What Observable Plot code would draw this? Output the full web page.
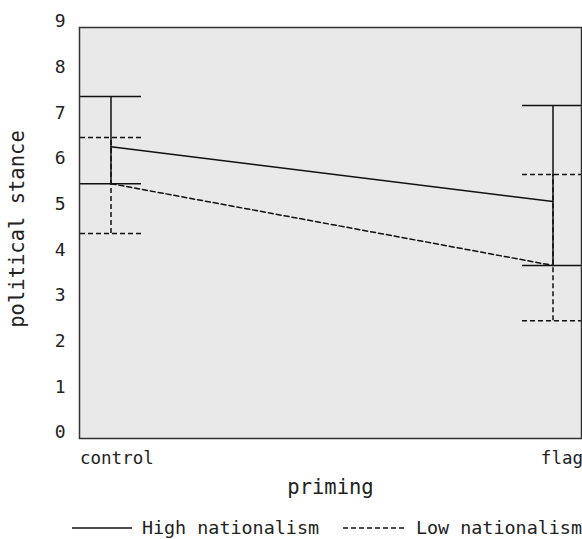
<!DOCTYPE html>
<html><head><meta charset="utf-8">
<script src="https://cdn.jsdelivr.net/npm/d3@7"></script>
<script src="https://cdn.jsdelivr.net/npm/@observablehq/plot@0.6"></script>
<style>
html,body{margin:0;padding:0;background:#fff;overflow:hidden;}
body{font-family:"DejaVu Sans Mono",monospace;color:#222;}
#legend{display:flex;align-items:center;height:22px;line-height:22px;margin-top:7px;padding-left:72px;font-size:18.4px;white-space:nowrap;}
#legend svg{display:block;}
</style></head><body><div id="chart"></div>
<div id="legend"></div>
<script>
const categories = ["control", "flag"];
const groups = ["High nationalism", "Low nationalism"];
const highMean  = [6.39, 5.19];
const highLower = [5.58, 3.79];
const highUpper = [7.49, 7.29];
const lowMean   = [5.58, 3.79];
const lowLower  = [4.49, 2.58];
const lowUpper  = [6.59, 5.78];
const yTicks = [0, 1, 2, 3, 4, 5, 6, 7, 8, 9];
const xTitle = "priming";
const yTitle = "political stance";

const rows = [];
categories.forEach((c, i) => {
  rows.push({cat: c, group: groups[0], mean: highMean[i], lo: highLower[i], hi: highUpper[i]});
  rows.push({cat: c, group: groups[1], mean: lowMean[i], lo: lowLower[i], hi: lowUpper[i]});
});
const dashes = {[groups[0]]: null, [groups[1]]: "5,3"};
const ink = "#111";

function groupMarks(g) {
  const d = rows.filter(r => r.group === g);
  const st = {stroke: ink, strokeWidth: 1.5, strokeDasharray: dashes[g]};
  return [
    Plot.line(d, {x: "cat", y: "mean", ...st}),
    Plot.ruleX(d, {x: "cat", y1: "lo", y2: "hi", ...st}),
    Plot.tickY(d, {x: "cat", y: "lo", ...st}),
    Plot.tickY(d, {x: "cat", y: "hi", ...st})
  ];
}

const chart = Plot.plot({
  width: 582,
  height: 510,
  marginTop: 27,
  marginRight: 1,
  marginBottom: 72,
  marginLeft: 79,
  style: {fontFamily: "DejaVu Sans Mono", fontSize: "18px", color: "#222", background: "#fff"},
  x: {type: "band", domain: categories, range: [79.5, 582.5], paddingInner: 0.862, paddingOuter: 0, align: 0.5, axis: null},
  y: {domain: [0, 9]},
  marks: [
    Plot.frame({fill: "#e9e9e9", stroke: null}),
    ...groupMarks(groups[1]),
    ...groupMarks(groups[0]),
    Plot.frame({stroke: "#333", strokeWidth: 1.5}),
    Plot.axisY(yTicks, {tickSize: 0, tickPadding: 14, dy: -6, fontSize: 18, fill: "#222", label: null}),
    Plot.text([categories[0]], {x: d => d, frameAnchor: "bottom", dy: 25, dx: -31, textAnchor: "start", fontSize: 17.5, fill: "#222", text: d => d}),
    Plot.text([categories[1]], {x: d => d, frameAnchor: "bottom", dy: 25, dx: 30, textAnchor: "end", fontSize: 17.5, fill: "#222", text: d => d}),
    Plot.text([xTitle], {frameAnchor: "bottom", dy: 55, fontSize: 20.5, fill: "#222", text: d => d}),
    Plot.text([yTitle], {frameAnchor: "left", dx: -62, dy: -4, rotate: -90, textAnchor: "middle", fontSize: 20.5, fill: "#222", text: d => d})
  ]
});
document.getElementById("chart").appendChild(chart);

const legend = document.getElementById("legend");
legend.innerHTML =
  `<svg width="60" height="4"><line x1="0" y1="2" x2="60" y2="2" stroke="${ink}" stroke-width="1.5"/></svg>` +
  `<span style="margin-left:10px">${groups[0]}</span>` +
  `<svg width="64" height="4" style="margin-left:24px"><line x1="0" y1="2" x2="64" y2="2" stroke="${ink}" stroke-width="1.5" stroke-dasharray="5,3"/></svg>` +
  `<span style="margin-left:9px">${groups[1]}</span>`;
</script></body></html>
